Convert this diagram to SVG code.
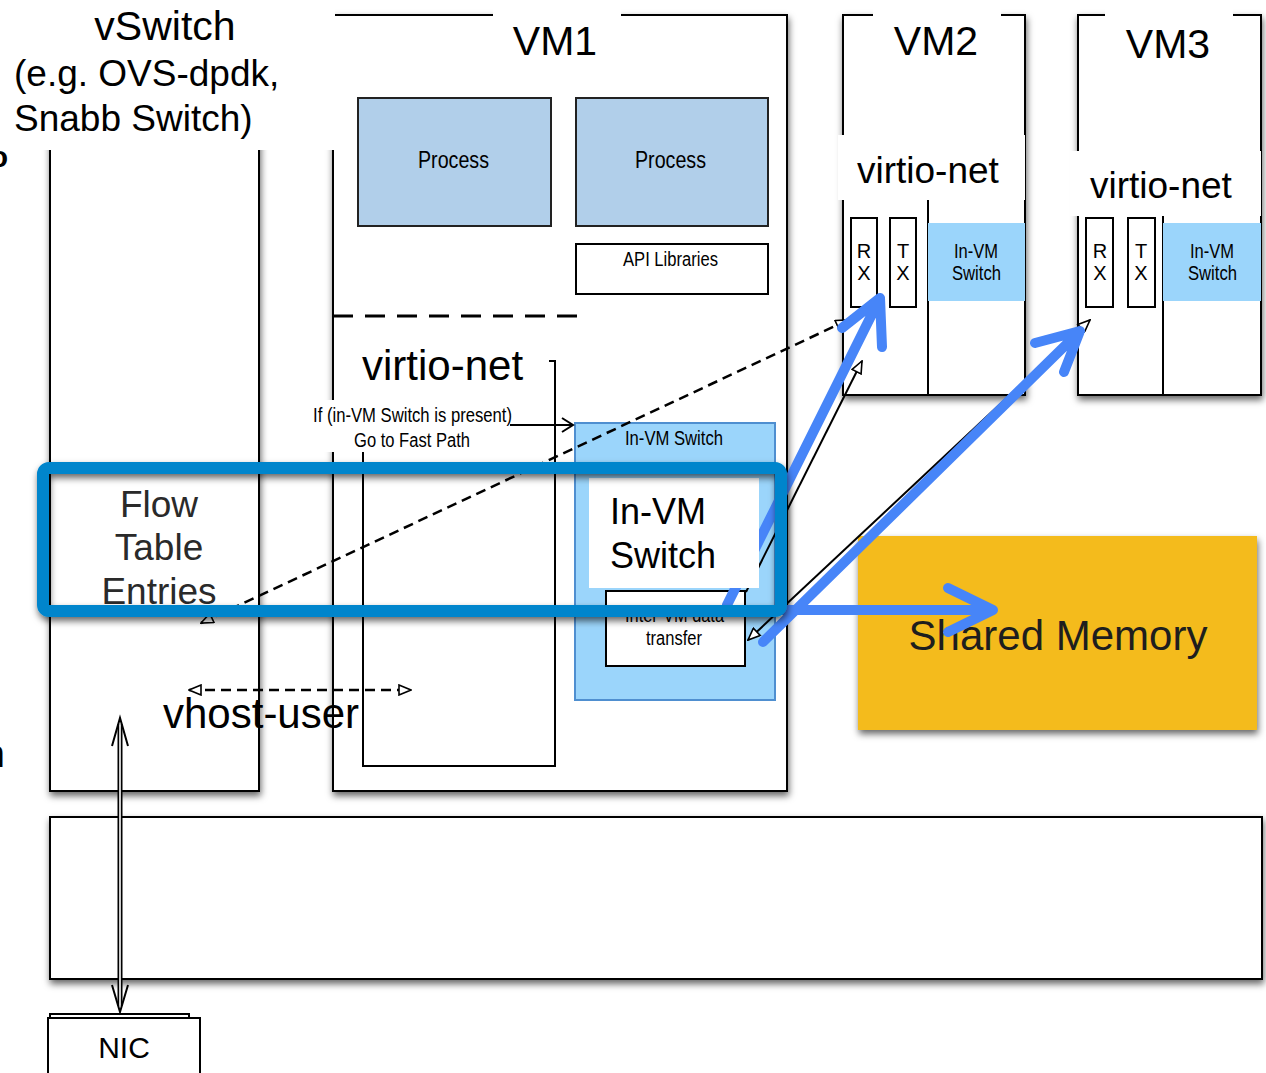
<svg xmlns="http://www.w3.org/2000/svg" width="1266" height="1073" viewBox="0 0 1266 1073">
  <defs>
    <filter id="shadow" x="-10%" y="-10%" width="125%" height="125%">
      <feDropShadow dx="1" dy="4" stdDeviation="3.5" flood-color="#000" flood-opacity="0.6"/>
    </filter>
    <marker id="tri" viewBox="0 0 14 12" refX="13" refY="6" markerWidth="14" markerHeight="12" markerUnits="userSpaceOnUse" orient="auto-start-reverse">
      <path d="M1,1 L13,6 L1,11 Z" fill="#fff" stroke="#000" stroke-width="1.6"/>
    </marker>
    <style>
      .box { fill: #fff; stroke: #000; stroke-width: 2; }
      .sans { font-family: "Liberation Sans", Arial, sans-serif; }
      .narrow { font-family: "Liberation Sans", Arial, sans-serif; }
      .proc { fill: #b1cfea; stroke: #222; stroke-width: 2; }
      .invm { fill: #9bd5fb; }
      .blue { fill: none; stroke: #4785f8; stroke-width: 10; stroke-linecap: round; stroke-linejoin: round; }
      .thin { fill: none; stroke: #000; stroke-width: 2; }
      .dash { fill: none; stroke: #000; stroke-width: 2.5; stroke-dasharray: 10 6; }
    </style>
  </defs>

  <!-- shadowed frames -->
  <g id="vswitch">
    <rect class="box" x="50" y="15" width="209" height="776" filter="url(#shadow)"/>
  </g>
  <g id="vm1">
    <rect class="box" x="333" y="15" width="454" height="776" filter="url(#shadow)"/>
    <rect x="493" y="8" width="128" height="14" fill="#fff"/>
    <text class="sans" x="555" y="55" font-size="41" text-anchor="middle">VM1</text>
  </g>
  <g id="vm2">
    <rect class="box" x="843" y="15" width="182" height="380" filter="url(#shadow)"/>
    <rect x="873" y="8" width="128" height="14" fill="#fff"/>
    <text class="sans" x="936" y="55" font-size="41" text-anchor="middle">VM2</text>
    <rect x="838" y="135" width="187" height="65" fill="#fff"/>
    <text class="sans" x="857" y="183" font-size="37">virtio-net</text>
    <line class="thin" x1="928" y1="200" x2="928" y2="395"/>
    <rect class="invm" x="928" y="223" width="97" height="78"/>
    <text class="narrow" x="954" y="258" font-size="20" textLength="44" lengthAdjust="spacingAndGlyphs">In-VM</text>
    <text class="narrow" x="952" y="280" font-size="20" textLength="49" lengthAdjust="spacingAndGlyphs">Switch</text>
    <rect class="box" x="851" y="218" width="26" height="89"/>
    <rect class="box" x="890" y="218" width="26" height="89"/>
    <text class="sans" x="864" y="258" font-size="20" text-anchor="middle">R</text>
    <text class="sans" x="864" y="280" font-size="20" text-anchor="middle">X</text>
    <text class="sans" x="903" y="258" font-size="20" text-anchor="middle">T</text>
    <text class="sans" x="903" y="280" font-size="20" text-anchor="middle">X</text>
  </g>
  <g id="vm3">
    <rect class="box" x="1078" y="15" width="183" height="380" filter="url(#shadow)"/>
    <rect x="1105" y="8" width="128" height="14" fill="#fff"/>
    <text class="sans" x="1168" y="58" font-size="41" text-anchor="middle">VM3</text>
    <rect x="1070" y="151" width="191" height="65" fill="#fff"/>
    <text class="sans" x="1090" y="198" font-size="37">virtio-net</text>
    <line class="thin" x1="1163" y1="216" x2="1163" y2="395"/>
    <rect class="invm" x="1163" y="223" width="98" height="78"/>
    <text class="narrow" x="1190" y="258" font-size="20" textLength="44" lengthAdjust="spacingAndGlyphs">In-VM</text>
    <text class="narrow" x="1188" y="280" font-size="20" textLength="49" lengthAdjust="spacingAndGlyphs">Switch</text>
    <rect class="box" x="1086" y="218" width="27" height="89"/>
    <rect class="box" x="1128" y="218" width="27" height="89"/>
    <text class="sans" x="1100" y="258" font-size="20" text-anchor="middle">R</text>
    <text class="sans" x="1100" y="280" font-size="20" text-anchor="middle">X</text>
    <text class="sans" x="1141" y="258" font-size="20" text-anchor="middle">T</text>
    <text class="sans" x="1141" y="280" font-size="20" text-anchor="middle">X</text>
  </g>
  <g id="host">
    <rect class="box" x="50" y="817" width="1212" height="162" filter="url(#shadow)"/>
  </g>
  <g id="shared-memory">
    <rect x="858" y="536" width="399" height="194" fill="#f4bb1f" filter="url(#shadow)"/>
    <text class="sans" x="1058" y="650" font-size="42" text-anchor="middle" fill="#1e1e1e">Shared Memory</text>
  </g>
  <g id="nic">
    <rect class="box" x="50" y="1014" width="139" height="70"/>
    <rect class="box" x="48" y="1018" width="152" height="70"/>
    <text class="sans" x="124" y="1058" font-size="30" text-anchor="middle">NIC</text>
  </g>

  <!-- vSwitch title block -->
  <g id="vswitch-label">
    <rect x="0" y="0" width="335" height="150" fill="#fff"/>
    <text class="sans" x="165" y="40" font-size="41" text-anchor="middle">vSwitch</text>
    <text class="sans" x="14" y="86" font-size="37">(e.g. OVS-dpdk,</text>
    <text class="sans" x="14" y="131" font-size="37">Snabb Switch)</text>
    <text class="sans" x="8" y="167" font-size="30" font-weight="bold" text-anchor="end">o</text>
    <text class="sans" x="5" y="767" font-size="38" text-anchor="end">n</text>
  </g>

  <!-- VM1 contents -->
  <g id="process-1">
    <rect class="proc" x="358" y="98" width="193" height="128"/>
    <text class="narrow" x="418" y="168" font-size="23" textLength="71" lengthAdjust="spacingAndGlyphs">Process</text>
  </g>
  <g id="process-2">
    <rect class="proc" x="576" y="98" width="192" height="128"/>
    <text class="narrow" x="635" y="168" font-size="23" textLength="71" lengthAdjust="spacingAndGlyphs">Process</text>
  </g>
  <g id="api-libraries">
    <rect class="box" x="576" y="244" width="192" height="50"/>
    <text class="narrow" x="623" y="266" font-size="20" textLength="95" lengthAdjust="spacingAndGlyphs">API Libraries</text>
  </g>
  <line x1="333" y1="316" x2="578" y2="316" stroke="#000" stroke-width="3" stroke-dasharray="20 12"/>

  <g id="virtio-net-vm1">
    <rect class="box" x="363" y="361" width="192" height="405"/>
    <rect x="336" y="338" width="213" height="62" fill="#fff"/>
    <text class="sans" x="362" y="380" font-size="42">virtio-net</text>
    <rect x="310" y="400" width="205" height="52" fill="#fff"/>
    <text class="narrow" x="313" y="422" font-size="20" textLength="199" lengthAdjust="spacingAndGlyphs">If (in-VM Switch is present)</text>
    <text class="narrow" x="354" y="447" font-size="20" textLength="116" lengthAdjust="spacingAndGlyphs">Go to Fast Path</text>
  </g>

  <g id="in-vm-switch">
    <rect x="575" y="423" width="200" height="277" fill="#9bd5fb" stroke="#4f8fd0" stroke-width="2"/>
    <text class="narrow" x="625" y="445" font-size="20" textLength="98" lengthAdjust="spacingAndGlyphs">In-VM Switch</text>
  </g>
  <g id="inter-vm-transfer">
    <rect class="box" x="606" y="591" width="139" height="75"/>
    <text class="narrow" x="625" y="622" font-size="20" textLength="99" lengthAdjust="spacingAndGlyphs">Inter-VM data</text>
    <text class="narrow" x="646" y="645" font-size="20" textLength="56" lengthAdjust="spacingAndGlyphs">transfer</text>
  </g>

  <!-- connectors -->
  <g id="connectors">
    <path d="M510,425 H572 M562,418 L573,425 L562,432" class="thin"/>
    <line class="dash" x1="201" y1="623" x2="848" y2="320" marker-start="url(#tri)" marker-end="url(#tri)"/>
    <line class="dash" x1="189" y1="690" x2="411" y2="690" marker-start="url(#tri)" marker-end="url(#tri)"/>
    <line class="thin" x1="746" y1="592" x2="862" y2="361" marker-end="url(#tri)"/>
    <line class="thin" x1="748" y1="640" x2="1090" y2="320" marker-start="url(#tri)" marker-end="url(#tri)"/>
    <!-- NIC link: hollow double arrow -->
    <line x1="120" y1="724" x2="120" y2="1006" stroke="#000" stroke-width="5"/>
    <line x1="120" y1="724" x2="120" y2="1006" stroke="#fff" stroke-width="1.6"/>
    <path d="M112,746 L120,718 L128,746 M112,985 L120,1012 L128,985" class="thin" stroke-width="1.5"/>
    <!-- fast-path flows -->
    <path class="blue" d="M727,605 L880,298 M842,328 L880,298 L882,347"/>
    <path class="blue" d="M763,642 L1080,331 M1035,343 L1080,331 L1064,372"/>
    <path class="blue" d="M770,610 H993 M948,588 L993,610 L948,632"/>
  </g>

  <g id="in-vm-switch-label">
    <rect x="589" y="478" width="170" height="110" fill="#fff"/>
    <text class="sans" x="610" y="524" font-size="36">In-VM</text>
    <text class="sans" x="610" y="568" font-size="36">Switch</text>
  </g>

  <g id="flow-table">
    <text class="sans" x="159" y="517" font-size="37" text-anchor="middle" fill="#2a2a2a">Flow</text>
    <text class="sans" x="159" y="560" font-size="37" text-anchor="middle" fill="#2a2a2a">Table</text>
    <text class="sans" x="159" y="604" font-size="37" text-anchor="middle" fill="#2a2a2a">Entries</text>
  </g>

  <g id="fast-path-highlight">
    <rect x="43" y="468" width="738" height="143" rx="6" fill="none" stroke="#0385cc" stroke-width="12" filter="url(#shadow)"/>
  </g>

  <g id="vhost-user">
    <text class="sans" x="163" y="728" font-size="42">vhost-user</text>
  </g>
</svg>
